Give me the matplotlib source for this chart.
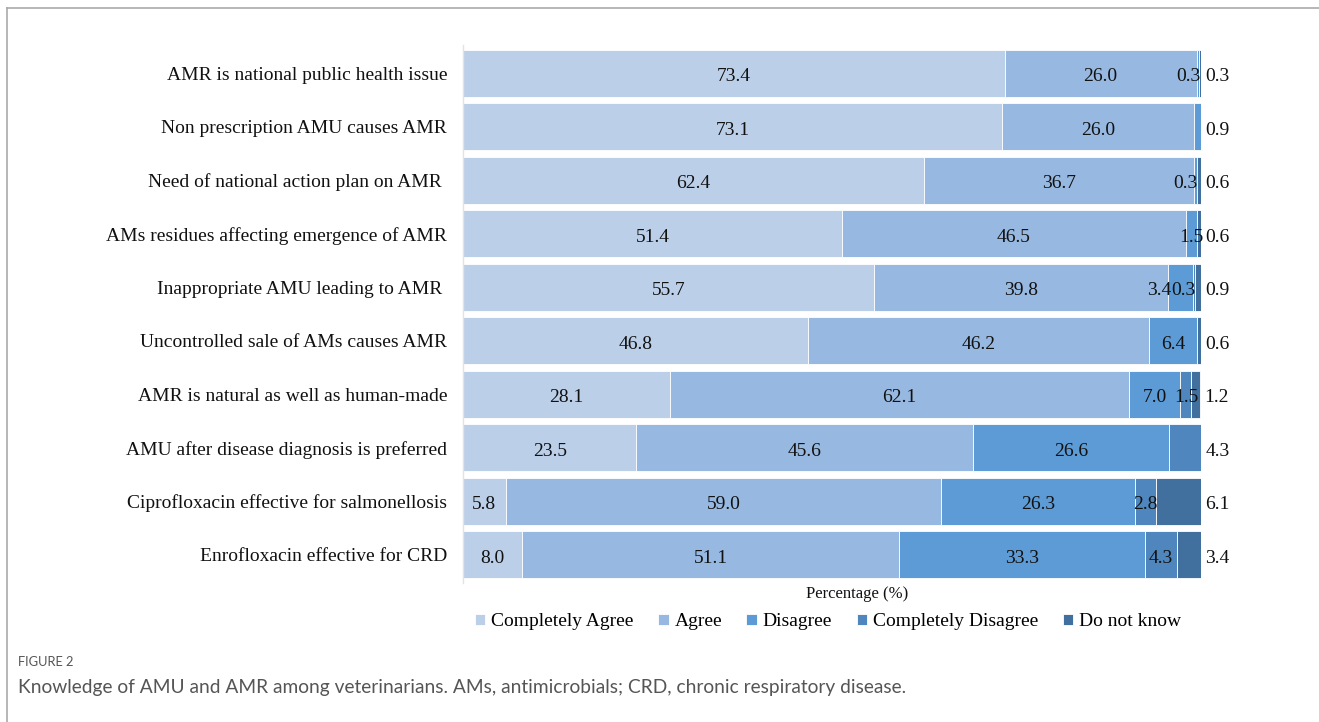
import matplotlib.pyplot as plt
import numpy as np
from matplotlib.lines import Line2D

categories = [
    'AMR is national public health issue',
    'Non prescription AMU causes AMR',
    'Need of national action plan on AMR ',
    'AMs residues affecting emergence of AMR',
    'Inappropriate AMU leading to AMR ',
    'Uncontrolled sale of AMs causes AMR',
    'AMR is natural as well as human-made',
    'AMU after disease diagnosis is preferred',
    'Ciprofloxacin effective for salmonellosis',
    'Enrofloxacin effective for CRD',
]
series_names = ['Completely Agree', 'Agree', 'Disagree', 'Completely Disagree', 'Do not know']

completely_agree = [73.4, 73.1, 62.4, 51.4, 55.7, 46.8, 28.1, 23.5, 5.8, 8.0]
agree = [26.0, 26.0, 36.7, 46.5, 39.8, 46.2, 62.1, 45.6, 59.0, 51.1]
disagree = [0.3, 0.9, 0.3, 1.5, 3.4, 6.4, 7.0, 26.6, 26.3, 33.3]
completely_disagree = [0.0, 0.0, 0.0, 0.0, 0.3, 0.0, 1.5, 4.3, 2.8, 4.3]
do_not_know = [0.3, 0.0, 0.6, 0.6, 0.9, 0.6, 1.2, 0.0, 6.1, 3.4]

colors = ['#bccfe9', '#97b8e0', '#5c9bd5', '#4f86bd', '#41709f']

# small horizontal nudges (points) for crowded labels: (row, series) -> dx
nudges = {(0, 2): -7, (2, 2): -7, (4, 2): -15, (4, 3): -8}

plt.rcParams['font.family'] = ['Liberation Serif', 'DejaVu Serif']

fig = plt.figure(figsize=(13.19, 7.22), dpi=100)
ax = fig.add_axes([463 / 1319, 1 - 583 / 722, 738 / 1319, 538 / 722])

data = np.array([completely_agree, agree, disagree, completely_disagree, do_not_know])
y = np.arange(len(categories))
left = np.zeros(len(categories))
for s, (vals, col) in enumerate(zip(data, colors)):
    ax.barh(y, vals, left=left, height=0.88, color=col, edgecolor='white',
            linewidth=0.6, label=series_names[s])
    left += vals

# value labels: last non-zero segment goes outside the bar, the rest centred inside
for i in range(len(categories)):
    row = data[:, i]
    last = max(k for k in range(5) if row[k] > 0)
    start = 0.0
    for s in range(5):
        v = row[s]
        if v > 0:
            if s == last:
                ax.annotate(f'{v:.1f}', (min(left[i], 100), i), xytext=(3, -1),
                            textcoords='offset points', ha='left', va='center_baseline',
                            fontsize=14, color='#111111', annotation_clip=False)
            else:
                ax.annotate(f'{v:.1f}', (start + v / 2, i), xytext=(nudges.get((i, s), 0), -1),
                            textcoords='offset points', ha='center', va='center_baseline',
                            fontsize=14, color='#111111', annotation_clip=False)
        start += v

ax.set_xlim(0, 100)
ax.set_ylim(9.53, -0.53)
ax.set_yticks(y)
ax.set_yticklabels(categories, fontsize=14, color='#111111')
ax.tick_params(axis='y', length=0, pad=11.5)
ax.set_xticks([])
for side in ['top', 'right', 'bottom']:
    ax.spines[side].set_visible(False)
ax.spines['left'].set_color('#e3e3e3')
ax.spines['left'].set_linewidth(1)

ax.set_xlabel('Percentage (%)', fontsize=12, color='#111111')
ax.xaxis.set_label_coords((857 - 463) / 738, -0.006)
ax.xaxis.label.set_va('top')

fig.legend(loc='center', bbox_to_anchor=(828 / 1319, 1 - 622 / 722), ncol=5, frameon=False,
           fontsize=14, handlelength=0.55, handleheight=0.55, handletextpad=0.3,
           columnspacing=1.25)

# caption
fig.text(18 / 1319, 1 - 662 / 722, 'FIGURE 2', fontsize=9.3, color='#555555',
         family=['Lato', 'DejaVu Sans'], va='center')
fig.text(18 / 1319, 1 - 688 / 722,
         'Knowledge of AMU and AMR among veterinarians. AMs, antimicrobials; CRD, chronic respiratory disease.',
         fontsize=13.8, color='#555555', family=['Lato', 'DejaVu Sans'], va='center')

# frame around the figure area
fig.add_artist(Line2D([7 / 1319, 7 / 1319], [0, 1 - 8 / 722], transform=fig.transFigure,
                      color='#aaaaaa', linewidth=1.2))
fig.add_artist(Line2D([7 / 1319, 1], [1 - 8 / 722, 1 - 8 / 722], transform=fig.transFigure,
                      color='#aaaaaa', linewidth=1.2))

fig.savefig('out.png', dpi=100)
